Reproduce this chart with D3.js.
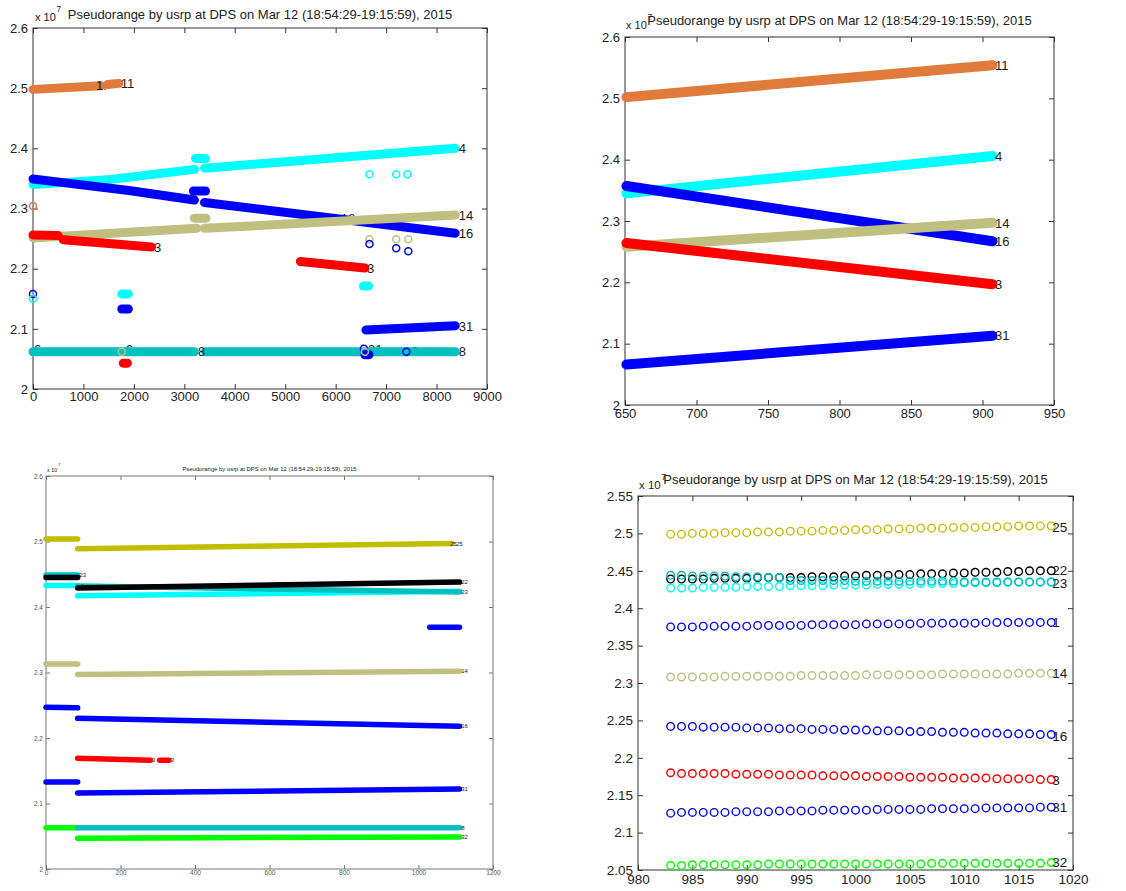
<!DOCTYPE html>
<html lang="en">
<head>
<meta charset="UTF-8">
<title>Pseudorange by usrp at DPS</title>
<script src="https://d3js.org/d3.v7.min.js"></script>
<style>
  body { margin: 0; background: #fff; }
  svg { font-family: "Liberation Sans", Arial, sans-serif; }
</style>
</head>
<body>
<svg width="1126" height="891"></svg>
<script>
const title = "Pseudorange by usrp at DPS on Mar 12 (18:54:29-19:15:59), 2015";

// colour of each satellite (PRN)
const prnColor = {
  1: "#0000ff", 3: "#ff0000", 4: "#00ffff", 8: "#00bfbf", 11: "#e07b3c",
  14: "#bfbf80", 16: "#0000ff", 22: "#000000", 23: "#00bfbf", 25: "#bfbf00",
  31: "#0000ff", 32: "#00ff00"
};

// ---------- panel 1 (top left), pseudorange x 1e7 ----------
const p1XTicks = [0, 1000, 2000, 3000, 4000, 5000, 6000, 7000, 8000, 9000];
const p1YTicks = [2, 2.1, 2.2, 2.3, 2.4, 2.5, 2.6];
const p1Tracks = [
  { prn: 11, pts: [[0, 2.498], [1350, 2.504]] },
  { prn: 11, pts: [[1480, 2.506], [1700, 2.508]] },
  { prn: 4, pts: [[0, 2.340], [1500, 2.348], [3200, 2.365]] },
  { prn: 4, pts: [[3220, 2.383], [3420, 2.383]] },
  { prn: 4, pts: [[3400, 2.367], [8370, 2.400]] },
  { prn: 16, pts: [[0, 2.349], [600, 2.343], [1900, 2.330], [3200, 2.314]] },
  { prn: 16, pts: [[3180, 2.329], [3420, 2.329]] },
  { prn: 16, pts: [[3400, 2.310], [8370, 2.259]] },
  { prn: 14, pts: [[0, 2.251], [3250, 2.267]] },
  { prn: 14, pts: [[3200, 2.284], [3430, 2.284]] },
  { prn: 14, pts: [[3400, 2.267], [8370, 2.289]] },
  { prn: 3, pts: [[0, 2.256], [500, 2.255]] },
  { prn: 3, pts: [[600, 2.248], [2350, 2.236]] },
  { prn: 3, pts: [[5300, 2.212], [6580, 2.201]] },
  { prn: 8, pts: [[0, 2.062], [3200, 2.062]] },
  { prn: 8, pts: [[3420, 2.062], [8370, 2.062]] },
  { prn: 31, pts: [[6600, 2.098], [8370, 2.105]] },
  { prn: 4, pts: [[1760, 2.158], [1890, 2.158]] },
  { prn: 16, pts: [[1760, 2.133], [1890, 2.133]] },
  { prn: 3, pts: [[1790, 2.043], [1870, 2.043]] },
  { prn: 4, pts: [[6550, 2.171], [6650, 2.171]] },
  { prn: 16, pts: [[6580, 2.057], [6660, 2.057]] }
];
const p1Rings = [
  [11, 0, 2.304], [16, 0, 2.158], [4, 0, 2.150],
  [14, 6670, 2.249], [16, 6670, 2.241],
  [14, 7200, 2.249], [16, 7200, 2.234],
  [14, 7440, 2.249], [16, 7440, 2.229],
  [4, 6670, 2.357], [4, 7200, 2.357], [4, 7420, 2.357],
  [16, 6560, 2.067], [14, 1760, 2.062], [14, 6580, 2.062], [16, 7400, 2.062]
];
const p1LabelsBelow = [
  [6080, 2.284, "16"], [0, 2.066, "6"], [1820, 2.066, "6"],
  [6620, 2.066, "31"], [7330, 2.062, "16"]
];
const p1Labels = [
  [1230, 2.504, "1."], [1720, 2.508, "11"], [8420, 2.400, "4"],
  [8420, 2.289, "14"], [8420, 2.258, "16"], [2380, 2.236, "3"],
  [6600, 2.201, "3"], [8420, 2.104, "31"], [3250, 2.062, "8"], [8420, 2.062, "8"]
];

// ---------- panel 2 (top right) ----------
const p2XTicks = [650, 700, 750, 800, 850, 900, 950];
const p2YTicks = [2, 2.1, 2.2, 2.3, 2.4, 2.5, 2.6];
const p2Tracks = [
  { prn: 11, pts: [[651, 2.502], [907, 2.554]] },
  { prn: 4, pts: [[651, 2.345], [907, 2.406]] },
  { prn: 16, pts: [[651, 2.357], [907, 2.267]] },
  { prn: 14, pts: [[651, 2.258], [907, 2.297]] },
  { prn: 3, pts: [[651, 2.264], [907, 2.197]] },
  { prn: 31, pts: [[651, 2.066], [907, 2.113]] }
];
const p2Labels = [
  [908, 2.554, "11"], [908, 2.406, "4"], [908, 2.297, "14"],
  [908, 2.267, "16"], [908, 2.197, "3"], [908, 2.113, "31"]
];

// ---------- panel 3 (bottom left) ----------
const p3XTicks = [0, 200, 400, 600, 800, 1000, 1200];
const p3YTicks = [2, 2.1, 2.2, 2.3, 2.4, 2.5, 2.6];
const p3Tracks = [
  { prn: 25, pts: [[0, 2.504], [85, 2.504]] },
  { prn: 25, pts: [[85, 2.489], [1090, 2.497]] },
  { prn: 23, pts: [[0, 2.449], [85, 2.449]] },
  { prn: 22, pts: [[0, 2.445], [85, 2.445]] },
  { prn: 4, pts: [[0, 2.433], [85, 2.433]] },
  { prn: 4, pts: [[85, 2.417], [1110, 2.424]] },
  { prn: 23, pts: [[85, 2.432], [1110, 2.423]] },
  { prn: 22, pts: [[85, 2.429], [1110, 2.438]] },
  { prn: 1, pts: [[1030, 2.369], [1110, 2.369]] },
  { prn: 14, pts: [[0, 2.313], [85, 2.313]] },
  { prn: 14, pts: [[85, 2.297], [1110, 2.302]] },
  { prn: 16, pts: [[0, 2.247], [85, 2.246]] },
  { prn: 16, pts: [[85, 2.230], [1110, 2.218]] },
  { prn: 3, pts: [[85, 2.169], [280, 2.166]] },
  { prn: 3, pts: [[305, 2.166], [330, 2.166]] },
  { prn: 31, pts: [[0, 2.133], [85, 2.133]] },
  { prn: 31, pts: [[85, 2.116], [1110, 2.122]] },
  { prn: 32, pts: [[0, 2.063], [85, 2.063]] },
  { prn: 32, pts: [[85, 2.047], [1110, 2.049]] },
  { prn: 8, pts: [[85, 2.063], [1110, 2.063]] }
];
const p3Labels = [
  [1082, 2.497, "25"], [1098, 2.497, "25"], [1112, 2.438, "22"], [1112, 2.423, "23"],
  [1112, 2.302, "14"], [1112, 2.218, "16"], [282, 2.166, "3"], [332, 2.166, "3"],
  [1112, 2.122, "31"], [1112, 2.063, "8"], [1112, 2.049, "32"], [87, 2.449, "23"], [90, 2.432, "4"]
];

// ---------- panel 4 (bottom right), one circle per epoch ----------
const p4XTicks = [980, 985, 990, 995, 1000, 1005, 1010, 1015, 1020];
const p4YTicks = [2.05, 2.1, 2.15, 2.2, 2.25, 2.3, 2.35, 2.4, 2.45, 2.5, 2.55];
const p4Epochs = [983, 984, 985, 986, 987, 988, 989, 990, 991, 992, 993, 994,
                  995, 996, 997, 998, 999, 1000, 1001, 1002, 1003, 1004, 1005, 1006,
                  1007, 1008, 1009, 1010, 1011, 1012, 1013, 1014, 1015, 1016, 1017, 1018];
const p4Prn25 = [2.499, 2.499, 2.500, 2.500, 2.500, 2.501, 2.501, 2.501, 2.502, 2.502, 2.502, 2.503,
                 2.503, 2.503, 2.504, 2.504, 2.504, 2.505, 2.505, 2.505, 2.506, 2.506, 2.506, 2.507,
                 2.507, 2.507, 2.508, 2.508, 2.508, 2.509, 2.509, 2.509, 2.510, 2.510, 2.510, 2.510];
const p4Prn22 = [2.439, 2.439, 2.439, 2.439, 2.440, 2.440, 2.440, 2.440, 2.441, 2.441, 2.441, 2.441,
                 2.441, 2.442, 2.442, 2.442, 2.443, 2.443, 2.444, 2.444, 2.444, 2.445, 2.445, 2.446,
                 2.446, 2.446, 2.447, 2.447, 2.448, 2.448, 2.448, 2.449, 2.449, 2.450, 2.450, 2.450];
const p4Prn4 = [2.427, 2.427, 2.427, 2.428, 2.428, 2.428, 2.428, 2.429, 2.429, 2.429, 2.429, 2.430,
                2.430, 2.430, 2.430, 2.431, 2.431, 2.431, 2.431, 2.432, 2.432, 2.432, 2.432, 2.433,
                2.433, 2.433, 2.433, 2.434, 2.434, 2.434, 2.434, 2.435, 2.435, 2.435, 2.435, 2.435];
const p4Prn23 = [2.444, 2.444, 2.443, 2.443, 2.443, 2.443, 2.442, 2.442, 2.442, 2.441, 2.441, 2.437,
                 2.437, 2.437, 2.437, 2.437, 2.437, 2.436, 2.436, 2.436, 2.436, 2.436, 2.436, 2.436,
                 2.436, 2.436, 2.436, 2.435, 2.435, 2.435, 2.435, 2.435, 2.435, 2.435, 2.435, 2.435];
const p4Prn1 = [2.375, 2.375, 2.375, 2.376, 2.376, 2.376, 2.376, 2.376, 2.377, 2.377, 2.377, 2.377,
                2.377, 2.378, 2.378, 2.378, 2.378, 2.378, 2.379, 2.379, 2.379, 2.379, 2.379, 2.380,
                2.380, 2.380, 2.380, 2.380, 2.380, 2.381, 2.381, 2.381, 2.381, 2.381, 2.381, 2.381];
const p4Prn14 = [2.308, 2.308, 2.308, 2.308, 2.308, 2.309, 2.309, 2.309, 2.309, 2.309, 2.309, 2.309,
                 2.310, 2.310, 2.310, 2.310, 2.310, 2.310, 2.311, 2.311, 2.311, 2.311, 2.311, 2.311,
                 2.311, 2.312, 2.312, 2.312, 2.312, 2.312, 2.312, 2.312, 2.313, 2.313, 2.313, 2.313];
const p4Prn16 = [2.242, 2.242, 2.242, 2.241, 2.241, 2.241, 2.241, 2.240, 2.240, 2.240, 2.239, 2.239,
                 2.239, 2.238, 2.238, 2.238, 2.237, 2.237, 2.237, 2.236, 2.236, 2.236, 2.235, 2.235,
                 2.235, 2.234, 2.234, 2.234, 2.233, 2.233, 2.233, 2.232, 2.232, 2.232, 2.231, 2.231];
const p4Prn3 = [2.180, 2.179, 2.179, 2.179, 2.179, 2.179, 2.178, 2.178, 2.178, 2.178, 2.177, 2.177,
                2.177, 2.177, 2.176, 2.176, 2.176, 2.176, 2.175, 2.175, 2.175, 2.175, 2.174, 2.174,
                2.174, 2.174, 2.173, 2.173, 2.173, 2.173, 2.172, 2.172, 2.172, 2.172, 2.171, 2.171];
const p4Prn31 = [2.126, 2.127, 2.127, 2.127, 2.127, 2.127, 2.128, 2.128, 2.128, 2.128, 2.129, 2.129,
                 2.129, 2.129, 2.130, 2.130, 2.130, 2.130, 2.130, 2.131, 2.131, 2.131, 2.131, 2.131,
                 2.132, 2.132, 2.132, 2.132, 2.132, 2.133, 2.133, 2.133, 2.133, 2.133, 2.134, 2.134];
const p4Prn32 = [2.056, 2.056, 2.057, 2.057, 2.057, 2.057, 2.057, 2.057, 2.057, 2.058, 2.058, 2.058,
                 2.058, 2.058, 2.058, 2.058, 2.058, 2.058, 2.058, 2.058, 2.058, 2.058, 2.058, 2.058,
                 2.059, 2.059, 2.059, 2.059, 2.059, 2.059, 2.059, 2.059, 2.059, 2.059, 2.059, 2.060];
const p4Series = [
  [25, p4Prn25], [22, p4Prn22], [4, p4Prn4], [23, p4Prn23], [1, p4Prn1],
  [14, p4Prn14], [16, p4Prn16], [3, p4Prn3], [31, p4Prn31], [32, p4Prn32]
];
const p4Labels = [
  [1018, 2.509, "25"], [1018, 2.451, "22"], [1018, 2.434, "23"], [1018, 2.381, "1"],
  [1018, 2.313, "14"], [1018, 2.229, "16"], [1018, 2.170, "3"], [1018, 2.134, "31"], [1018, 2.060, "32"]
];

// ---------- layout ----------
const panels = [
  { left: 33, right: 487, top: 28, bottom: 389, xd: [0, 9000], yd: [2, 2.6],
    fs: 13, tick: 5, xPad: 3, yPad: 5, band: 9, ring: 3.5, lfs: 13,
    tfs: 13, titleY: 19, expX: 35, expY: 21, supY: 12, axis: "#333", tickText: "#222" },
  { left: 625, right: 1054, top: 37, bottom: 405, xd: [650, 950], yd: [2, 2.6],
    fs: 13, tick: 5, xPad: 4, yPad: 5, band: 10, ring: 3.5, lfs: 13,
    tfs: 13, titleY: 25, expX: 626, expY: 29, supY: 20, axis: "#333", tickText: "#222" },
  { left: 46, right: 493, top: 476, bottom: 869, xd: [0, 1200], yd: [2, 2.6],
    fs: 6.5, tick: 4, xPad: 1, yPad: 3, band: 5.5, ring: 2, lfs: 6,
    tfs: 5.9, titleY: 471, expX: 47, expY: 472, supY: 466, axis: "#777", tickText: "#555" },
  { left: 638, right: 1073, top: 496, bottom: 870, xd: [980, 1020], yd: [2.05, 2.55],
    fs: 13.5, tick: 5, xPad: 4, yPad: 5, band: 9, ring: 3.8, lfs: 13.5,
    tfs: 13, titleY: 484, expX: 639, expY: 489, supY: 480, axis: "#333", tickText: "#222" }
];

const svg = d3.select("svg");
const fmt = d => String(+(+d).toFixed(2));

function setup(cfg, xTicks, yTicks) {
  const x = d3.scaleLinear().domain(cfg.xd).range([cfg.left, cfg.right]);
  const y = d3.scaleLinear().domain(cfg.yd).range([cfg.bottom, cfg.top]);
  const g = svg.append("g");

  const styleAxis = sel => {
    sel.select(".domain").remove();
    sel.selectAll("line").attr("stroke", cfg.axis);
    sel.selectAll("text").attr("font-size", cfg.fs).attr("fill", cfg.tickText)
      .attr("font-family", '"Liberation Sans", Arial, sans-serif');
    sel.attr("font-size", null).attr("font-family", null);
  };
  g.append("g").attr("transform", `translate(0,${cfg.bottom})`)
    .call(d3.axisBottom(x).tickValues(xTicks).tickFormat(fmt).tickSizeInner(-cfg.tick).tickSizeOuter(0).tickPadding(cfg.xPad))
    .call(styleAxis);
  g.append("g").attr("transform", `translate(0,${cfg.top})`)
    .call(d3.axisTop(x).tickValues(xTicks).tickFormat("").tickSizeInner(-cfg.tick).tickSizeOuter(0))
    .call(styleAxis);
  g.append("g").attr("transform", `translate(${cfg.left},0)`)
    .call(d3.axisLeft(y).tickValues(yTicks).tickFormat(fmt).tickSizeInner(-cfg.tick).tickSizeOuter(0).tickPadding(cfg.yPad))
    .call(styleAxis);
  g.append("g").attr("transform", `translate(${cfg.right},0)`)
    .call(d3.axisRight(y).tickValues(yTicks).tickFormat("").tickSizeInner(-cfg.tick).tickSizeOuter(0))
    .call(styleAxis);

  g.append("rect")
    .attr("x", cfg.left).attr("y", cfg.top)
    .attr("width", cfg.right - cfg.left).attr("height", cfg.bottom - cfg.top)
    .attr("fill", "none").attr("stroke", cfg.axis).attr("stroke-width", 1);

  // title and exponent
  g.append("text")
    .attr("x", (cfg.left + cfg.right) / 2).attr("y", cfg.titleY)
    .attr("text-anchor", "middle").attr("font-size", cfg.tfs).attr("fill", "#222")
    .text(title);
  const ex = g.append("text")
    .attr("x", cfg.expX).attr("y", cfg.expY)
    .attr("font-size", cfg.fs * 0.85).attr("fill", "#222")
    .text("x 10");
  const w = ex.node().getComputedTextLength();
  g.append("text")
    .attr("x", cfg.expX + w + 0.5).attr("y", cfg.supY)
    .attr("font-size", cfg.fs * 0.65).attr("fill", "#222")
    .text("7");

  return { x, y, g };
}

function drawLabels(p, cfg, labels) {
  p.g.append("g").selectAll("text").data(labels).join("text")
    .attr("x", d => p.x(d[0]) + 1)
    .attr("y", d => p.y(d[1]))
    .attr("dy", "0.36em")
    .attr("font-size", cfg.lfs)
    .attr("fill", "#1a1a1a")
    .text(d => d[2]);
}

function drawTracks(p, cfg, tracks) {
  const line = d3.line().x(d => p.x(d[0])).y(d => p.y(d[1]));
  p.g.append("g").selectAll("path").data(tracks).join("path")
    .attr("d", d => line(d.pts))
    .attr("fill", "none")
    .attr("stroke", d => prnColor[d.prn])
    .attr("stroke-width", cfg.band)
    .attr("stroke-linecap", "round")
    .attr("stroke-linejoin", "round");
}

function drawRings(p, cfg, rings) {
  p.g.append("g").selectAll("circle").data(rings).join("circle")
    .attr("cx", d => p.x(d[1]))
    .attr("cy", d => p.y(d[2]))
    .attr("r", cfg.ring)
    .attr("fill", "none")
    .attr("stroke", d => prnColor[d[0]])
    .attr("stroke-width", 1.5);
}

// panel 1
const a = setup(panels[0], p1XTicks, p1YTicks);
drawLabels(a, panels[0], p1LabelsBelow);
drawTracks(a, panels[0], p1Tracks);
drawRings(a, panels[0], p1Rings);
drawLabels(a, panels[0], p1Labels);

// panel 2
const b = setup(panels[1], p2XTicks, p2YTicks);
drawTracks(b, panels[1], p2Tracks);
drawLabels(b, panels[1], p2Labels);

// panel 3
const c = setup(panels[2], p3XTicks, p3YTicks);
drawTracks(c, panels[2], p3Tracks);
drawLabels(c, panels[2], p3Labels);

// panel 4
const d4 = setup(panels[3], p4XTicks, p4YTicks);
p4Series.forEach(([prn, vals]) => {
  d4.g.append("g").selectAll("circle").data(vals).join("circle")
    .attr("cx", (v, i) => d4.x(p4Epochs[i]))
    .attr("cy", v => d4.y(v))
    .attr("r", panels[3].ring)
    .attr("fill", "none")
    .attr("stroke", prnColor[prn])
    .attr("stroke-width", 1.4);
});
drawLabels(d4, panels[3], p4Labels);
</script>
</body>
</html>
